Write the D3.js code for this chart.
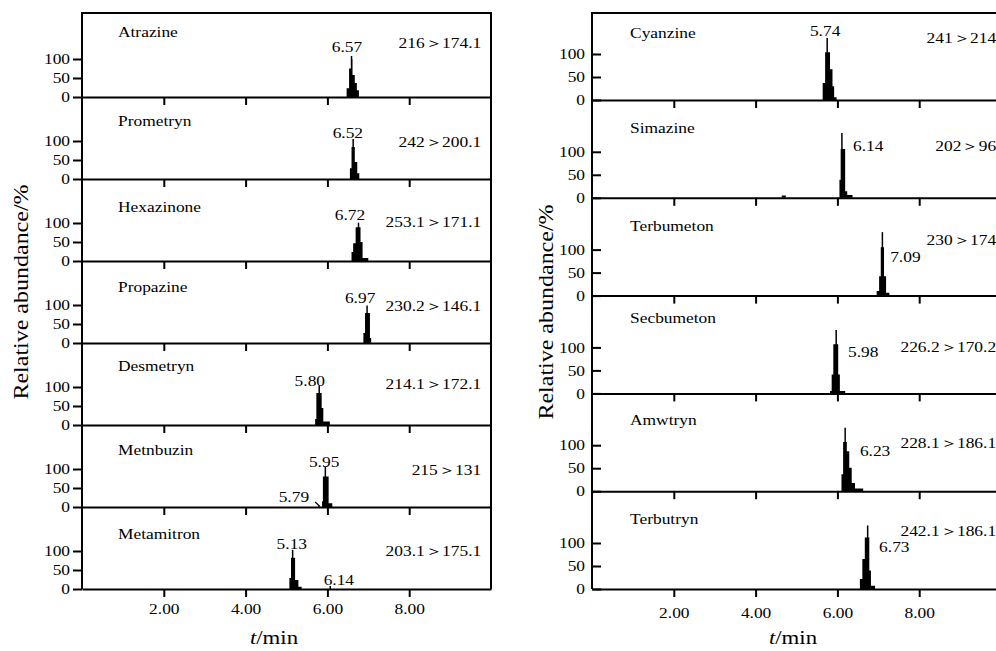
<!DOCTYPE html>
<html>
<head>
<meta charset="utf-8">
<script src="https://cdn.jsdelivr.net/npm/d3@7"></script>
<style>
  body { margin: 0; background: #fff; }
  svg text { font-family: "Liberation Serif", "Times New Roman", serif; font-size: 14.5px; fill: #000; }
</style>
</head>
<body>
<div id="chart"></div>
<script>
// ---- data: left column (retention time in min, relative abundance in %) ----
const leftNames = ["Atrazine", "Prometryn", "Hexazinone", "Propazine", "Desmetryn", "Metnbuzin", "Metamitron"];
const leftTransitions = ["216＞174.1", "242＞200.1", "253.1＞171.1", "230.2＞146.1", "214.1＞172.1", "215＞131", "203.1＞175.1"];
const leftProfiles = [
    [[6.47, 23], [6.53, 75], [6.58, 100], [6.61, 58], [6.67, 37], [6.72, 18], [6.77, 0]],
    [[6.55, 28], [6.59, 84], [6.67, 45], [6.73, 15], [6.78, 0]],
    [[6.59, 24], [6.63, 47], [6.69, 89], [6.81, 50], [6.86, 8], [7.00, 0]],
    [[6.88, 26], [6.92, 79], [7.04, 13], [7.07, 0]],
    [[5.70, 16], [5.73, 84], [5.86, 45], [5.90, 9], [6.06, 0]],
    [[5.78, 4], [5.81, 0], [5.87, 15], [5.89, 80], [6.03, 10], [6.12, 0]],
    [[5.07, 29], [5.11, 82], [5.21, 24], [5.29, 6], [5.37, 0]]
];
const leftTips = [
    [[6.59, 108]], [[6.63, 105]], [[6.76, 101]], [[6.97, 99]],
    [[5.80, 103]], [[5.95, 106]], [[5.15, 103], [6.07, 8]]
];
// retention time labels: [row, text]
const leftRtText = [[0, "6.57"], [1, "6.52"], [2, "6.72"], [3, "6.97"], [4, "5.80"], [5, "5.95"], [5, "5.79"], [6, "5.13"], [6, "6.14"]];

// ---- data: right column ----
const rightNames = ["Cyanzine", "Simazine", "Terbumeton", "Secbumeton", "Amwtryn", "Terbutryn"];
const rightTransitions = ["241＞214", "202＞96", "230＞174", "226.2＞170.2", "228.1＞186.1", "242.1＞186.1"];
const rightProfiles = [
    [[5.64, 37], [5.70, 104], [5.82, 67], [5.88, 30], [5.92, 6], [5.98, 0]],
    [[4.64, 5], [4.74, 0], [6.05, 39], [6.08, 106], [6.19, 14], [6.24, 6], [6.37, 0]],
    [[6.96, 10], [7.02, 42], [7.06, 105], [7.14, 42], [7.19, 6], [7.27, 0]],
    [[5.82, 5], [5.86, 41], [5.90, 107], [6.02, 41], [6.06, 5], [6.19, 0]],
    [[6.10, 37], [6.14, 107], [6.23, 87], [6.29, 51], [6.35, 18], [6.43, 6], [6.63, 0]],
    [[6.55, 22], [6.61, 65], [6.67, 112], [6.78, 40], [6.82, 7], [6.92, 0]]
];
const rightTips = [[[5.75, 135]], [[6.11, 141]], [[7.10, 138]], [[5.97, 138]], [[6.19, 138]], [[6.74, 138]]];
const rightRtText = [[0, "5.74"], [1, "6.14"], [2, "7.09"], [3, "5.98"], [4, "6.23"], [5, "6.73"]];

const xTicks = [2, 4, 6, 8];
const yTicks = [0, 50, 100];

// ---- label placement in data units (t, abundance), kept apart from the data ----
const leftRtPos = [[6.48, 118, "middle"], [6.50, 108, "middle"], [6.55, 108, "middle"], [6.80, 105, "middle"],
    [5.57, 103, "middle"], [5.92, 105, "middle"], [5.18, 13, "middle"], [5.13, 105, "middle"], [6.28, 10, "middle"]];
const leftNameLevel = [158, 139, 129, 134, 142, 137, 132];
const leftTransLevel = [129, 84, 89, 84, 95, 84, 87];
const leftPointer = [5, [5.70, 13], [5.81, 2]];

const rightRtPos = [[5.70, 139, "middle"], [6.38, 102, "start"], [7.29, 74, "start"],
    [6.26, 80, "start"], [6.55, 76, "start"], [7.02, 80, "start"]];
const rightNameLevel = [135, 141, 141, 154, 143, 141];
const rightTransLevel = [124, 102, 109, 91, 93, 115];

const width = 996;
const height = 651;
const frameTop = 13;
const lastBase = 589;
const stretch = "scale(1.2,1)"; // the source font is wide

const svg = d3.select("#chart")
    .append("svg")
    .attr("width", width)
    .attr("height", height);

function addText(g, x, y, str, anchor) {
    return g.append("text")
        .attr("transform", `translate(${x},${y}) ${stretch}`)
        .attr("text-anchor", anchor || "start")
        .text(str);
}

function drawPanel(p) {
    const g = svg.append("g");
    const n = p.names.length;
    const x = d3.scaleLinear().domain([0, 10]).range([p.x0, p.x0 + 409]);
    const rowBase = d3.scaleLinear().domain([0, n - 1]).range([p.firstBase, lastBase]);

    for (let i = 0; i < n; i++) {
        const base = rowBase(i);
        const y = d3.scaleLinear().domain([0, 100]).range([base, base - p.px100]);

        // peak body
        const area = d3.area()
            .x(d => x(d[0]))
            .y0(base)
            .y1(d => y(d[1]))
            .curve(d3.curveStepAfter);
        g.append("path")
            .datum(p.profiles[i])
            .attr("d", area)
            .attr("fill", "#000");

        // apex spikes
        g.selectAll(null)
            .data(p.tips[i])
            .enter()
            .append("line")
            .attr("x1", d => x(d[0]))
            .attr("x2", d => x(d[0]))
            .attr("y1", base)
            .attr("y2", d => y(d[1]))
            .attr("stroke", "#000")
            .attr("stroke-width", 1.5);

        // x axis on every baseline
        const last = i === n - 1;
        const xAxis = d3.axisBottom(x)
            .tickValues(xTicks)
            .tickSize(8)
            .tickSizeOuter(0)
            .tickPadding(p.xPad)
            .tickFormat(last ? d3.format(".2f") : () => "");
        const xg = g.append("g")
            .attr("transform", `translate(0,${base})`)
            .call(xAxis)
            .attr("font-family", null)
            .attr("font-size", null);
        xg.selectAll("path, line").attr("stroke-width", 2);
        xg.selectAll("text").attr("transform", stretch);

        // y axis
        const yAxis = d3.axisLeft(y)
            .tickValues(yTicks)
            .tickSize(p.yTick)
            .tickPadding(p.yPad);
        const yg = g.append("g")
            .attr("transform", `translate(${p.x0},0)`)
            .call(yAxis)
            .attr("font-family", null)
            .attr("font-size", null);
        yg.select(".domain").remove();
        yg.selectAll("line").attr("stroke-width", 2);
        yg.selectAll("text").attr("transform", stretch);

        // compound name and transition
        addText(g, x(p.nameT), y(p.nameLevel[i]), p.names[i], "start");
        addText(g, x(p.transT), y(p.transLevel[i]), p.transitions[i], "end");
    }

    // retention time labels
    p.rtText.forEach((r, k) => {
        const base = rowBase(r[0]);
        const y = d3.scaleLinear().domain([0, 100]).range([base, base - p.px100]);
        const pos = p.rtPos[k];
        addText(g, x(pos[0]), y(pos[1]), r[1], pos[2]);
    });

    if (p.pointer) {
        const base = rowBase(p.pointer[0]);
        const y = d3.scaleLinear().domain([0, 100]).range([base, base - p.px100]);
        g.append("line")
            .attr("x1", x(p.pointer[1][0])).attr("y1", y(p.pointer[1][1]))
            .attr("x2", x(p.pointer[2][0])).attr("y2", y(p.pointer[2][1]))
            .attr("stroke", "#000")
            .attr("stroke-width", 1.2);
    }

    // frame
    const frame = d3.path();
    frame.moveTo(x(10), lastBase);
    frame.lineTo(x(10), frameTop);
    frame.lineTo(x(0), frameTop);
    frame.lineTo(x(0), lastBase);
    g.append("path")
        .attr("d", frame.toString())
        .attr("fill", "none")
        .attr("stroke", "#000")
        .attr("stroke-width", 2);

    // axis titles
    g.append("text")
        .attr("transform", `translate(${p.yTitleX},${p.yTitleY}) rotate(-90) ${stretch}`)
        .attr("text-anchor", "middle")
        .style("font-size", "20px")
        .text("Relative abundance/%");

    const xt = g.append("text")
        .attr("transform", `translate(${p.xTitleX},644) ${stretch}`)
        .attr("text-anchor", "middle")
        .style("font-size", "19px");
    xt.append("tspan").style("font-style", "italic").text("t");
    xt.append("tspan").text("/min");
}

drawPanel({
    x0: 82, firstBase: 97, px100: 38,
    names: leftNames, transitions: leftTransitions,
    profiles: leftProfiles, tips: leftTips,
    rtText: leftRtText, rtPos: leftRtPos,
    nameT: 0.88, nameLevel: leftNameLevel,
    transT: 9.76, transLevel: leftTransLevel,
    pointer: leftPointer,
    xPad: 7, yTick: 9, yPad: 1,
    yTitleX: 28, yTitleY: 292, xTitleX: 274
});

drawPanel({
    x0: 592, firstBase: 100, px100: 46,
    names: rightNames, transitions: rightTransitions,
    profiles: rightProfiles, tips: rightTips,
    rtText: rightRtText, rtPos: rightRtPos,
    nameT: 0.93, nameLevel: rightNameLevel,
    transT: 9.88, transLevel: rightTransLevel,
    pointer: null,
    xPad: 11, yTick: -9, yPad: 5.8,
    yTitleX: 553, yTitleY: 312, xTitleX: 793
});
</script>
</body>
</html>
